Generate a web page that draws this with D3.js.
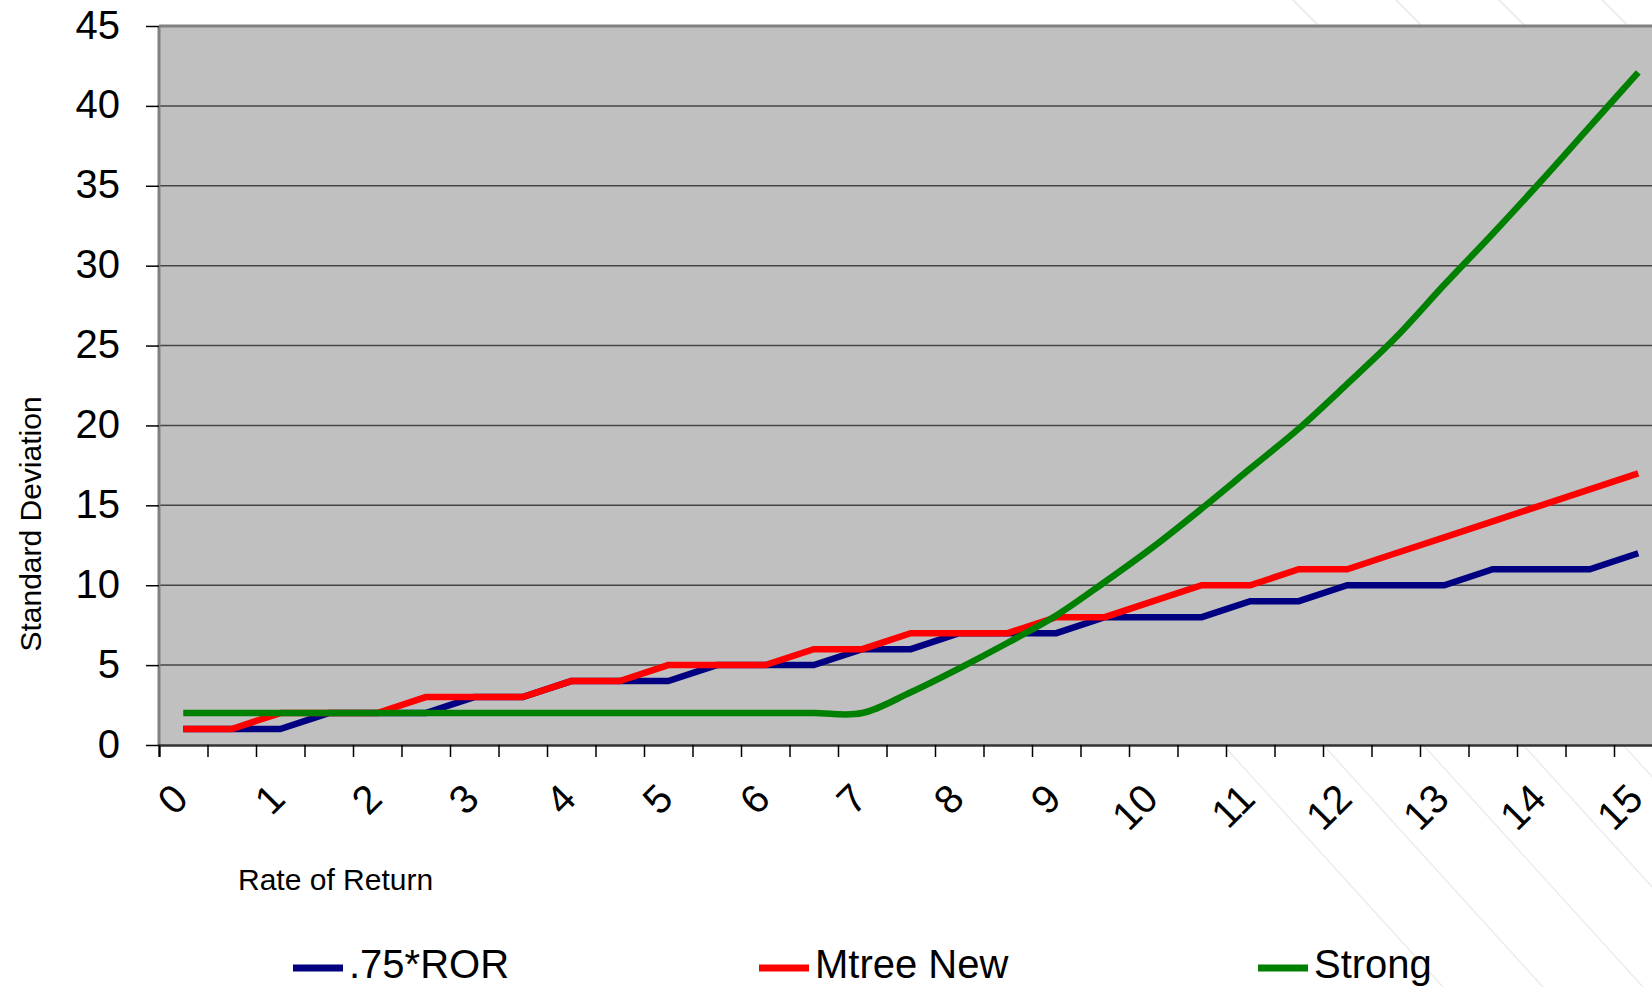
<!DOCTYPE html>
<html>
<head>
<meta charset="utf-8">
<script src="https://cdn.jsdelivr.net/npm/d3@7"></script>
<style>
  body { margin: 0; background: #fff; }
  svg { display: block; font-family: "Liberation Sans", Arial, sans-serif; }
</style>
</head>
<body>
<div id="viz"></div>
<script>
// categories (rate of return), every other one gets a label
var categories = [0, 0.5, 1, 1.5, 2, 2.5, 3, 3.5, 4, 4.5, 5, 5.5, 6, 6.5, 7, 7.5,
                  8, 8.5, 9, 9.5, 10, 10.5, 11, 11.5, 12, 12.5, 13, 13.5, 14, 14.5, 15];
var tickLabels = ["0", "1", "2", "3", "4", "5", "6", "7", "8", "9", "10", "11", "12", "13", "14", "15"];
var yTicks = [0, 5, 10, 15, 20, 25, 30, 35, 40, 45];

var rorValues = [1, 1, 1, 2, 2, 2, 3, 3, 4, 4, 4, 5, 5, 5, 6, 6,
                 7, 7, 7, 8, 8, 8, 9, 9, 10, 10, 10, 11, 11, 11, 12];
var mtreeValues = [1, 1, 2, 2, 2, 3, 3, 3, 4, 4, 5, 5, 5, 6, 6, 7,
                   7, 7, 8, 8, 9, 10, 10, 11, 11, 12, 13, 14, 15, 16, 17];
var strongValues = [2, 2, 2, 2, 2, 2, 2, 2, 2, 2, 2, 2, 2, 2, 2, 3.3,
                    4.8, 6.4, 8.1, 10.2, 12.4, 14.8, 17.3, 19.8, 22.6, 25.5, 28.8, 32.0, 35.3, 38.7, 42.1];

var seriesNames = [".75*ROR", "Mtree New", "Strong"];
var seriesColors = ["#000080", "#ff0000", "#008000"];

drawChart();

function drawChart() {
    var W = 1652, H = 987;
    var plotLeft = 159, plotTop = 26, plotBottom = 745, bandW = 48.5;
    var plotRight = plotLeft + bandW * categories.length;

    var svg = d3.select("#viz").append("svg")
        .attr("width", W)
        .attr("height", H);

    // faint diagonal stripes of the slide background
    var stripesTop = d3.range(4).map(function(k) { return 1293 + 103 * k; });
    svg.selectAll(".stripeTop").data(stripesTop).enter().append("line")
        .attr("x1", function(d) { return d; }).attr("y1", 0)
        .attr("x2", function(d) { return d + 30; }).attr("y2", 30)
        .attr("stroke", "#e8e8e8").attr("stroke-width", 1.5);
    var stripesBottom = d3.range(5).map(function(k) { return 1225 + 100 * k; });
    svg.selectAll(".stripeBot").data(stripesBottom).enter().append("line")
        .attr("x1", function(d) { return d; }).attr("y1", 747)
        .attr("x2", function(d) { return d + 218; }).attr("y2", 987)
        .attr("stroke", "#ececec").attr("stroke-width", 1.5);

    var x = d3.scaleBand()
        .domain(categories)
        .range([plotLeft, plotRight]);
    var xEdge = d3.scaleLinear()
        .domain([0, categories.length])
        .range([plotLeft, plotRight]);
    var y = d3.scaleLinear()
        .domain([0, 45])
        .range([plotBottom, plotTop]);

    function cx(d) { return x(d) + x.bandwidth() / 2; }

    // plot area
    svg.append("rect")
        .attr("x", plotLeft).attr("y", plotTop)
        .attr("width", plotRight - plotLeft).attr("height", plotBottom - plotTop)
        .attr("fill", "#c0c0c0");

    // gridlines
    svg.selectAll(".grid").data(yTicks.slice(1, -1)).enter().append("line")
        .attr("x1", plotLeft).attr("x2", plotRight)
        .attr("y1", function(d) { return y(d); })
        .attr("y2", function(d) { return y(d); })
        .attr("stroke", "#444").attr("stroke-width", 1.5);

    // border top / left
    svg.append("line").attr("x1", plotLeft).attr("x2", plotRight).attr("y1", plotTop).attr("y2", plotTop)
        .attr("stroke", "#808080").attr("stroke-width", 3);
    svg.append("line").attr("x1", plotLeft).attr("x2", plotLeft).attr("y1", plotTop).attr("y2", plotBottom)
        .attr("stroke", "#808080").attr("stroke-width", 3);

    // y axis
    var yAxis = d3.axisLeft(y).tickValues(yTicks).tickSize(13).tickPadding(26);
    var gy = svg.append("g")
        .attr("transform", "translate(" + plotLeft + ",0)")
        .call(yAxis);
    gy.select(".domain").remove();
    gy.selectAll("line").attr("stroke", "#000").attr("stroke-width", 1.5);
    gy.selectAll("text").attr("font-size", "40px").attr("fill", "#000")
        .attr("dy", "0.3em")
        .attr("font-family", "Liberation Sans, Arial, sans-serif");

    // x axis tick marks between categories
    var xAxis = d3.axisBottom(xEdge).tickValues(d3.range(categories.length + 1)).tickSize(12).tickFormat("");
    var gx = svg.append("g")
        .attr("transform", "translate(0," + plotBottom + ")")
        .call(xAxis);
    gx.select(".domain").attr("stroke", "#333").attr("stroke-width", 2.5);
    gx.selectAll("line").attr("stroke", "#000").attr("stroke-width", 1.5);

    // rotated category labels
    svg.selectAll(".xlab").data(tickLabels).enter().append("text")
        .attr("class", "xlab")
        .attr("transform", function(d) {
            return "translate(" + (cx(+d) + 7) + ",801) rotate(-45)";
        })
        .attr("text-anchor", "end")
        .attr("font-size", "40px")
        .text(function(d) { return d; });

    // axis titles
    svg.append("text")
        .attr("transform", "translate(41,524) rotate(-90)")
        .attr("text-anchor", "middle")
        .attr("font-size", "30px")
        .text("Standard Deviation");
    svg.append("text")
        .attr("x", 238).attr("y", 890)
        .attr("font-size", "30px")
        .text("Rate of Return");

    // series
    var series = [rorValues, mtreeValues, strongValues];
    var straight = d3.line()
        .x(function(d, i) { return cx(categories[i]); })
        .y(function(d) { return y(d); });
    var smooth = d3.line()
        .x(function(d, i) { return cx(categories[i]); })
        .y(function(d) { return y(d); })
        .curve(d3.curveCatmullRom.alpha(0));

    series.forEach(function(vals, i) {
        svg.append("path")
            .attr("d", (i === 2 ? smooth : straight)(vals))
            .attr("fill", "none")
            .attr("stroke", seriesColors[i])
            .attr("stroke-width", 6.5)
            .attr("stroke-linejoin", "miter");
    });

    // legend
    var legendX = [293, 759, 1258];
    var lg = svg.selectAll(".legend").data(seriesNames).enter().append("g")
        .attr("transform", function(d, i) { return "translate(" + legendX[i] + ",0)"; });
    lg.append("line")
        .attr("x1", 0).attr("x2", 50).attr("y1", 968).attr("y2", 968)
        .attr("stroke", function(d, i) { return seriesColors[i]; })
        .attr("stroke-width", 7);
    lg.append("text")
        .attr("x", 56).attr("y", 978)
        .attr("font-size", "40px")
        .text(function(d) { return d; });
}
</script>
</body>
</html>
